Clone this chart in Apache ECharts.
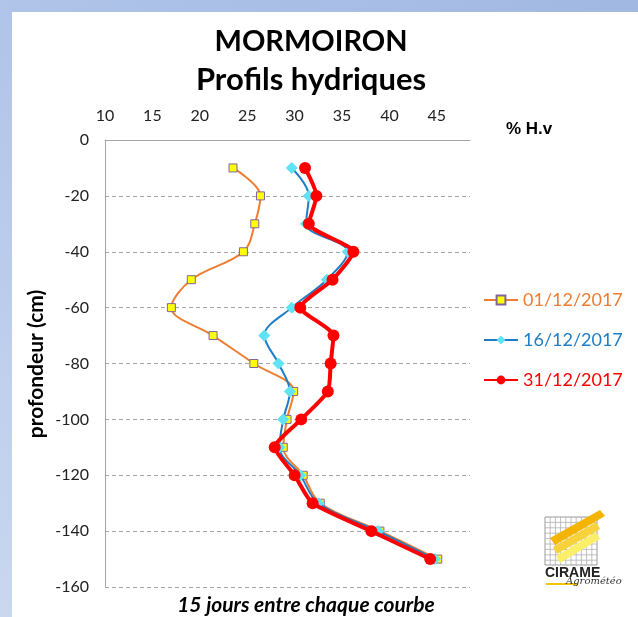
<!DOCTYPE html>
<html>
<head>
<meta charset="utf-8">
<script src="https://cdn.jsdelivr.net/npm/echarts@6/dist/echarts.min.js"></script>
<style>
html,body{margin:0;padding:0;background:#fff;}
#c{width:638px;height:617px;}
</style>
</head>
<body>
<div id="c"></div>
<script>
// ---- data ----
const depths = [-10,-20,-30,-40,-50,-60,-70,-80,-90,-100,-110,-120,-130,-140,-150];
const names = ['01/12/2017','16/12/2017','31/12/2017'];
const hv0112 = [23.5,26.4,25.8,24.6,19.1,17.0,21.4,25.7,29.9,29.2,28.8,30.9,32.7,39.0,45.1];
const hv1612 = [29.7,31.5,31.2,35.6,33.4,29.7,26.8,28.3,29.5,28.8,28.4,30.6,32.5,38.8,44.8];
const hv3112 = [31.1,32.3,31.5,36.2,34.0,30.6,34.1,33.8,33.5,30.7,27.9,30.0,31.9,38.1,44.3];
const xTicks = [10,15,20,25,30,35,40,45];
const yTicks = [0,-20,-40,-60,-80,-100,-120,-140,-160];

const pairs = v => v.map((x,i)=>[x,depths[i]]);
const font = 'Lato, "Open Sans", sans-serif';

const gridLines = [];
for (let i=1;i<10;i++) gridLines.push({type:'line',shape:{x1:545+i*5.2,y1:517,x2:545+i*5.2,y2:565},style:{stroke:'#b0b0b0',lineWidth:0.8}});
for (let i=1;i<9;i++) gridLines.push({type:'line',shape:{x1:545,y1:517+i*5.4,x2:597,y2:517+i*5.4},style:{stroke:'#b0b0b0',lineWidth:0.8}});

const chart = echarts.init(document.getElementById('c'));
chart.setOption({
  backgroundColor:'#ffffff',
  animation:false,
  graphic:[
    {type:'rect',shape:{x:0,y:0,width:638,height:12},z:-1,
     style:{fill:new echarts.graphic.LinearGradient(0,0,1,0,[{offset:0,color:'#B0C4E9'},{offset:1,color:'#A1B8E2'}])}},
    {type:'rect',shape:{x:0,y:0,width:12,height:617},z:-1,
     style:{fill:new echarts.graphic.LinearGradient(0,0,0,1,[{offset:0,color:'#B0C4E9'},{offset:1,color:'#C9D7EF'}])}},
    {type:'text',x:311,y:27,style:{text:'MORMOIRON',font:'bold 29px '+font,fill:'#000',textAlign:'center'}},
    {type:'text',x:311,y:64,style:{text:'Profils hydriques',font:'bold 31px '+font,fill:'#000',textAlign:'center'}},
    {type:'text',x:506,y:121,style:{text:'% H.v',font:'bold 17px "Liberation Sans", Arial, sans-serif',fill:'#000'}},
    {type:'text',x:306,y:595,style:{text:'15 jours entre chaque courbe',font:'italic bold 21px '+font,fill:'#000',textAlign:'center'}},
    {type:'text',x:36,y:364,rotation:Math.PI/2,style:{text:'profondeur (cm)',font:'bold 21px '+font,fill:'#000',textAlign:'center',textVerticalAlign:'middle'},originX:0,originY:0},
    // logo approximation
    {type:'group',x:0,y:0,children:[
      {type:'rect',shape:{x:545,y:517,width:52,height:48},style:{fill:'#fff',stroke:'#9a9a9a',lineWidth:1}},
      ...gridLines,
      {type:'polygon',shape:{points:[[550,538],[600,510],[605,516],[555,545]]},style:{fill:'#F4B400'}},
      {type:'polygon',shape:{points:[[553,547],[596,522],[600,529],[557,554]]},style:{fill:'#F8D23A'}},
      {type:'polygon',shape:{points:[[556,556],[596,532],[600,539],[560,563]]},style:{fill:'#FBEF6A'}},
      {type:'text',x:545,y:566,style:{text:'CIRAME',font:'bold 14px "Liberation Sans", Arial, sans-serif',fill:'#222'}},
      {type:'line',shape:{x1:546,y1:584,x2:578,y2:584},style:{stroke:'#F2C500',lineWidth:2}},
      {type:'text',x:566,y:576,style:{text:'Agrométéo',font:'italic 10px "DejaVu Serif", serif',fill:'#333'}}
    ]}
  ],
  legend:{
    orient:'vertical',left:478,top:286,itemGap:22,itemWidth:34,itemHeight:11,
    textStyle:{fontSize:18,fontFamily:font},
    data:[
      {name:names[0],textStyle:{color:'#ED7D31'}},
      {name:names[1],textStyle:{color:'#1F7DC6'}},
      {name:names[2],textStyle:{color:'#FF0000'}}
    ]
  },
  grid:{left:105,top:140,right:168,bottom:30},
  xAxis:{
    type:'value',position:'top',min:10,max:48.5,interval:5,
    axisLine:{show:true,lineStyle:{color:'#A6A6A6',width:1}},
    axisTick:{show:false},
    splitLine:{show:false},
    axisLabel:{fontSize:16,color:'#222',fontFamily:font,margin:16,
      formatter:v=>xTicks.includes(v)?String(v):''}
  },
  yAxis:{
    type:'value',min:-160,max:0,interval:20,
    axisLine:{show:true,lineStyle:{color:'#A6A6A6',width:1}},
    axisTick:{show:false},
    splitLine:{show:true,lineStyle:{color:'#A6A6A6',type:[4,3],width:1}},
    axisLabel:{fontSize:16,color:'#222',fontFamily:font,margin:16,
      formatter:v=>yTicks.includes(v)?String(v):''}
  },
  series:[
    {name:names[0],type:'line',data:pairs(hv0112),smooth:0.35,
     lineStyle:{color:'#ED7D31',width:2},
     itemStyle:{color:'#FFFF00',borderColor:'#8064A2',borderWidth:1},
     symbol:'rect',symbolSize:8,z:2},
    {name:names[1],type:'line',data:pairs(hv1612),smooth:0.35,
     lineStyle:{color:'#1F7DC6',width:2},
     itemStyle:{color:'#5FE3F5',borderColor:'#5FE3F5'},
     symbol:'diamond',symbolSize:11,z:3},
    {name:names[2],type:'line',data:pairs(hv3112),smooth:0.2,
     lineStyle:{color:'#FF0000',width:4},
     itemStyle:{color:'#FF0000'},
     symbol:'circle',symbolSize:12,z:4}
  ]
});
</script>
</body>
</html>
